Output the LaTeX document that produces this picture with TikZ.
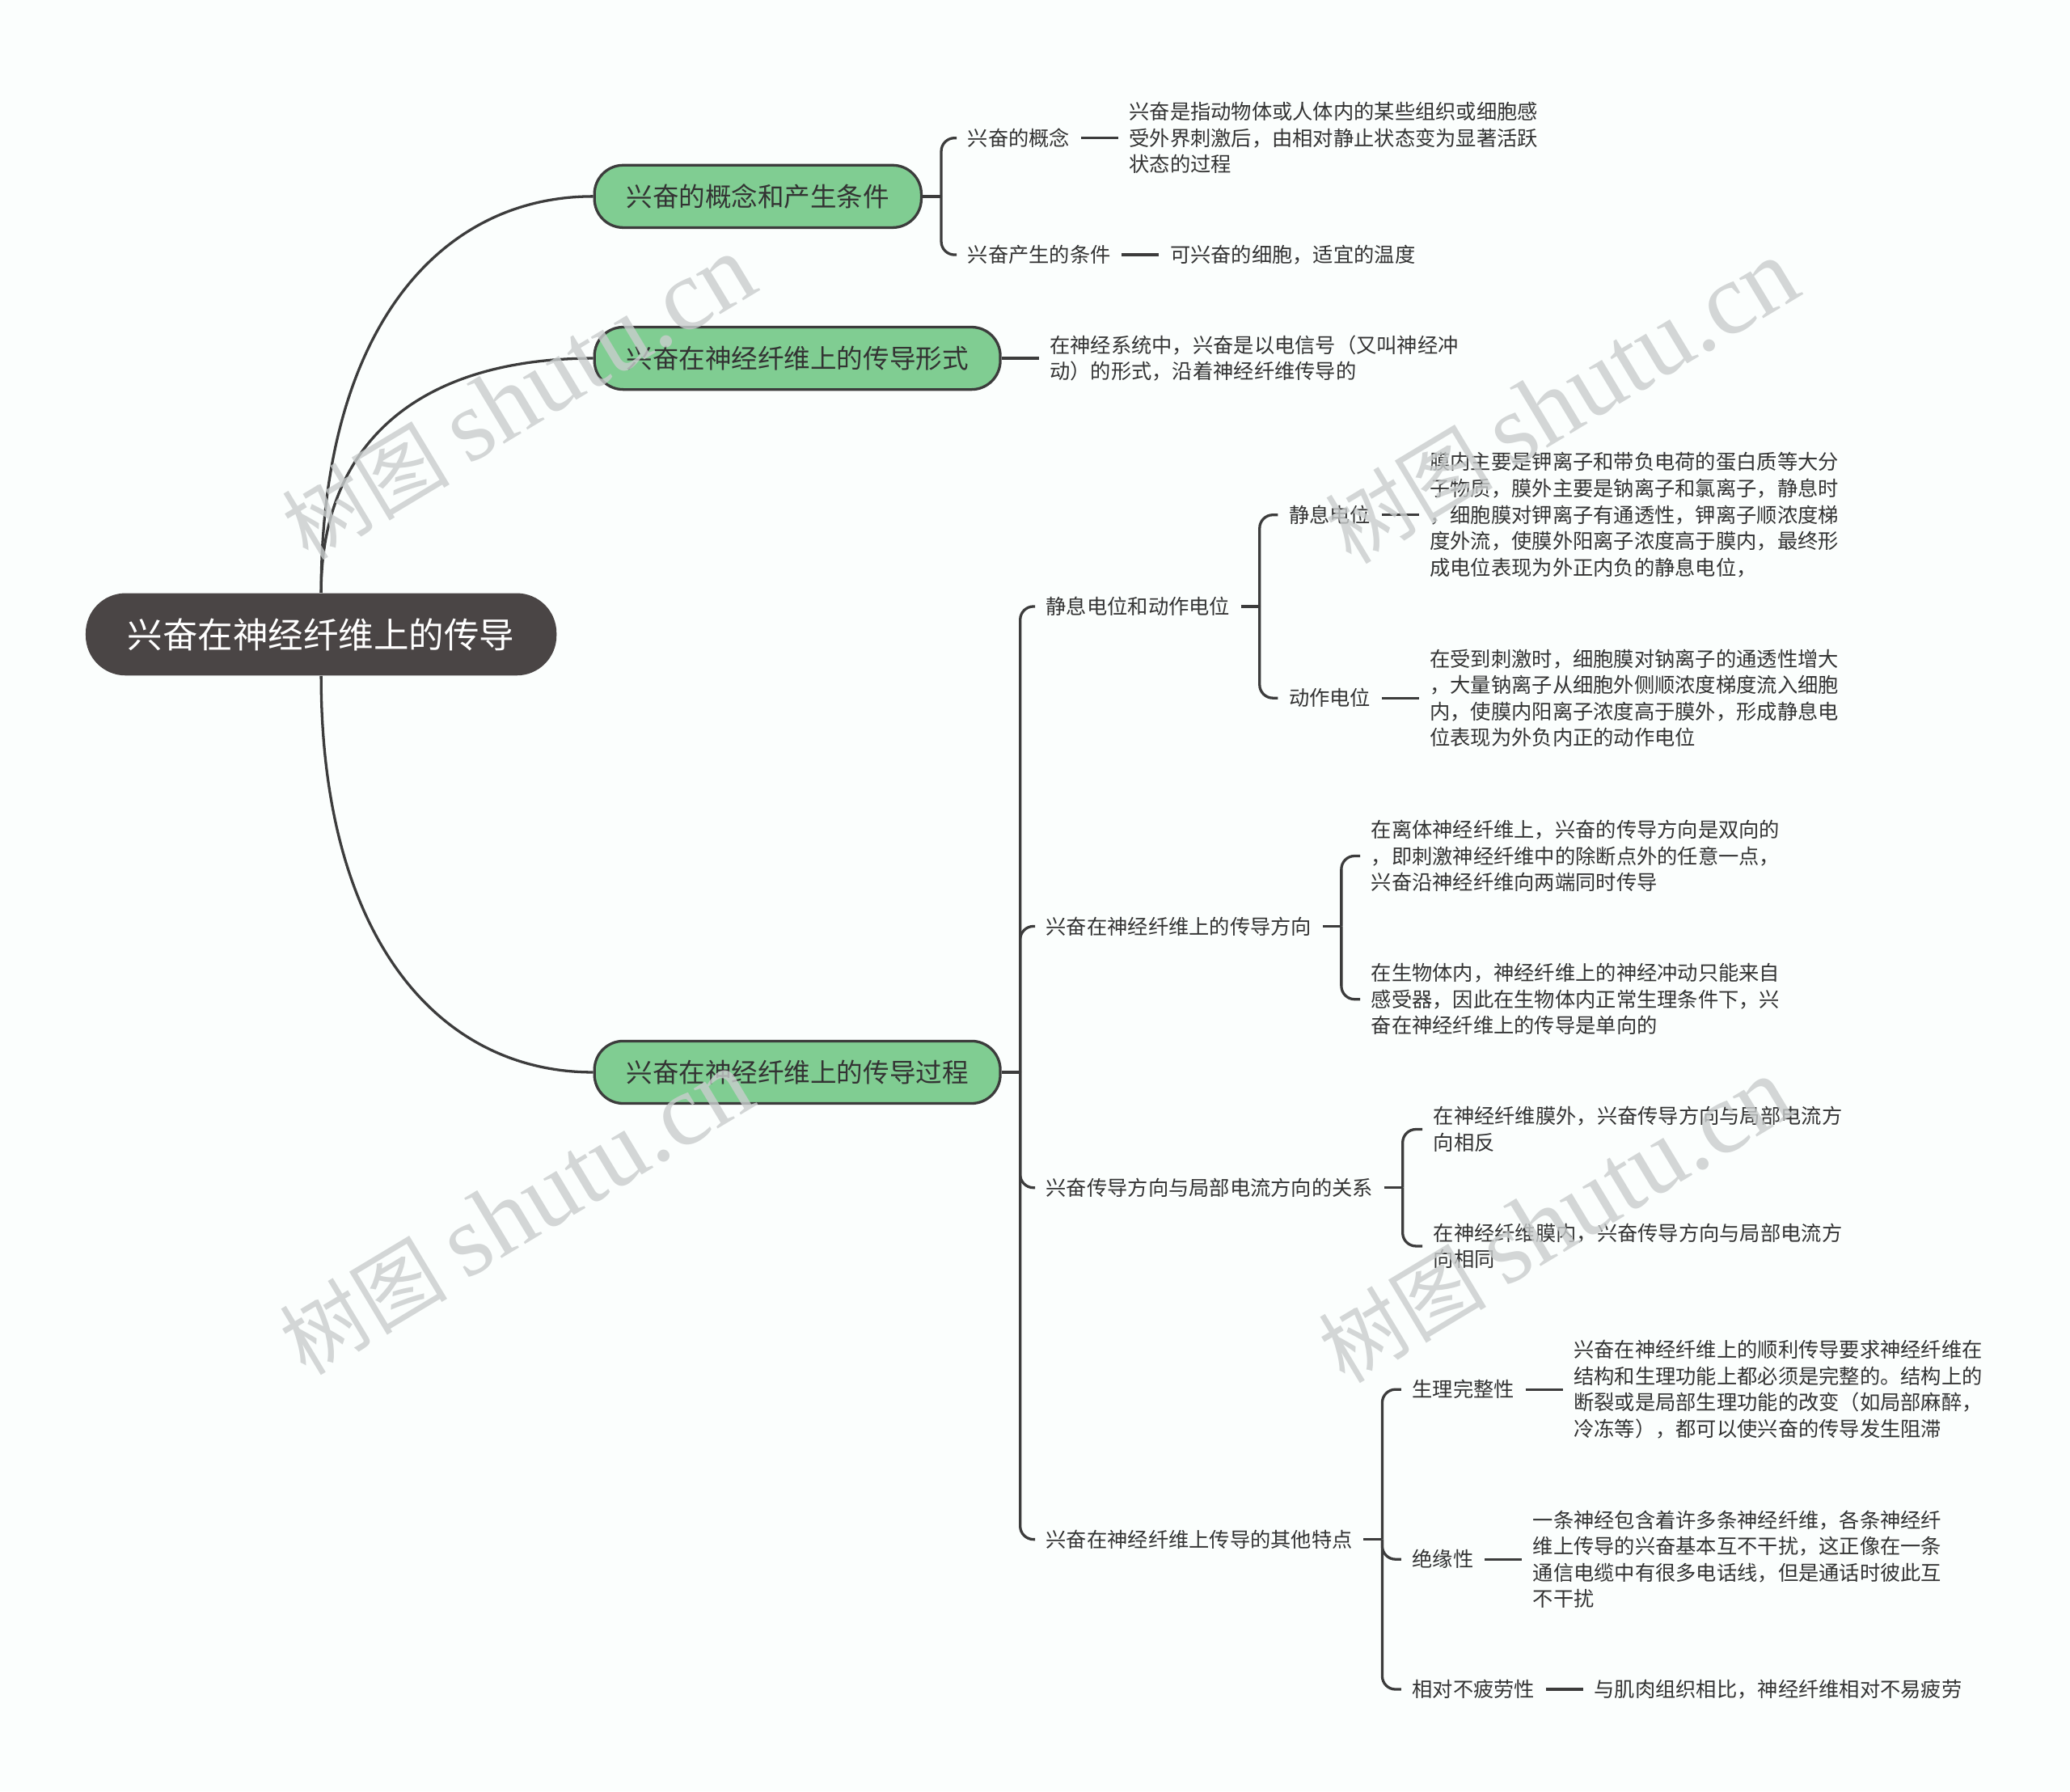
\documentclass[tikz,border=0pt]{standalone}
\usepackage{fontspec}
\setmainfont{Noto Sans CJK SC}
\newfontfamily\wmlatin{Liberation Serif}
\usetikzlibrary{positioning}

\definecolor{rootgray}{HTML}{4A4545}
\definecolor{topicgreen}{HTML}{80CD92}
\definecolor{linegray}{HTML}{3C3C3C}
\definecolor{textgray}{HTML}{333333}
\definecolor{paper}{HTML}{FBFEFD}
\definecolor{wmgray}{HTML}{C9CDCD}

\begin{document}
\begin{tikzpicture}[
        x=0.6pt, y=-0.6pt,
        root/.style={fill=rootgray, text=white, rounded corners=18pt, minimum height=37.2pt, inner xsep=19pt, font=\fontsize{15.9}{19}\selectfont},
        topic/.style={fill=topicgreen, draw=linegray, line width=1.2pt, rounded corners=13pt, minimum height=28.2pt, inner xsep=14.4pt, text=textgray, font=\fontsize{11.9}{14}\selectfont},
        leaf/.style={inner xsep=4.8pt, inner ysep=1pt, text=textgray, align=left, font=\fontsize{9.24}{11.9}\selectfont},
        edge/.style={draw=linegray, line width=1.2pt},
        brace/.style={edge, rounded corners=6pt},
        watermark/.style={rotate=31, text=wmgray, opacity=0.8, font=\fontsize{38}{40}\selectfont}
    ]
        \useasboundingbox[fill=paper] (0,0) rectangle (1560,1350);

        % Root and main topics
        \node[root] (root) at (242,478) {兴奋在神经纤维上的传导};
        \node[topic, anchor=west] (g1) at (447,148) {兴奋的概念和产生条件};
        \node[topic, anchor=west] (g2) at (447,270) {兴奋在神经纤维上的传导形式};
        \node[topic, anchor=west] (g3) at (447,808) {兴奋在神经纤维上的传导过程};

        \draw[edge] (root.north) .. controls (242,250) and (330,148) .. (g1.west);
        \draw[edge] (root.north) .. controls (242,330) and (320,270) .. (g2.west);
        \draw[edge] (root.south) .. controls (242,706) and (330,808) .. (g3.west);

        % Concept and conditions
        \node[leaf, anchor=west] (a1) at (721,104) {兴奋的概念};
        \node[leaf, right=16.8pt of a1] (a1t) {兴奋是指动物体或人体内的某些组织或细胞感\\受外界刺激后，由相对静止状态变为显著活跃\\状态的过程};
        \node[leaf, anchor=west] (a2) at (721,192) {兴奋产生的条件};
        \node[leaf, right=16.8pt of a2] (a2t) {可兴奋的细胞，适宜的温度};

        \coordinate (g1j) at ([xshift=8.4pt]g1.east);
        \draw[edge] (g1.east) -- (g1j);
        \foreach \c in {a1,a2}
            \draw[brace] (g1j) |- (\c.west);
        \draw[edge] (a1) -- (a1t);
        \draw[edge] (a2) -- (a2t);

        % Form
        \node[leaf, right=16.8pt of g2] (g2t) {在神经系统中，兴奋是以电信号（又叫神经冲\\动）的形式，沿着神经纤维传导的};
        \draw[edge] (g2) -- (g2t);

        % Process
        \node[leaf, anchor=west] (b1) at (780,457) {静息电位和动作电位};
        \node[leaf, anchor=west] (b2) at (780,698) {兴奋在神经纤维上的传导方向};
        \node[leaf, anchor=west] (b3) at (780,895) {兴奋传导方向与局部电流方向的关系};
        \node[leaf, anchor=west] (b4) at (780,1160) {兴奋在神经纤维上传导的其他特点};

        \coordinate (g3j) at ([xshift=8.4pt]g3.east);
        \draw[edge] (g3.east) -- (g3j);
        \foreach \c in {b1,b2,b3,b4}
            \draw[brace] (g3j) |- (\c.west);

        % Resting and action potential
        \node[leaf, anchor=west] (c1) at (963,388) {静息电位};
        \node[leaf, right=16.8pt of c1] (c1t) {膜内主要是钾离子和带负电荷的蛋白质等大分\\子物质，膜外主要是钠离子和氯离子，静息时\\，细胞膜对钾离子有通透性，钾离子顺浓度梯\\度外流，使膜外阳离子浓度高于膜内，最终形\\成电位表现为外正内负的静息电位，};
        \node[leaf, anchor=west] (c2) at (963,526) {动作电位};
        \node[leaf, right=16.8pt of c2] (c2t) {在受到刺激时，细胞膜对钠离子的通透性增大\\，大量钠离子从细胞外侧顺浓度梯度流入细胞\\内，使膜内阳离子浓度高于膜外，形成静息电\\位表现为外负内正的动作电位};

        \coordinate (b1j) at ([xshift=8.4pt]b1.east);
        \draw[edge] (b1.east) -- (b1j);
        \foreach \c in {c1,c2}
            \draw[brace] (b1j) |- (\c.west);
        \draw[edge] (c1) -- (c1t);
        \draw[edge] (c2) -- (c2t);

        % Direction
        \node[leaf, anchor=west] (d1) at (1025,645) {在离体神经纤维上，兴奋的传导方向是双向的\\，即刺激神经纤维中的除断点外的任意一点，\\兴奋沿神经纤维向两端同时传导};
        \node[leaf, anchor=west] (d2) at (1025,753) {在生物体内，神经纤维上的神经冲动只能来自\\感受器，因此在生物体内正常生理条件下，兴\\奋在神经纤维上的传导是单向的};

        \coordinate (b2j) at ([xshift=8.4pt]b2.east);
        \draw[edge] (b2.east) -- (b2j);
        \foreach \c in {d1,d2}
            \draw[brace] (b2j) |- (\c.west);

        % Local current
        \node[leaf, anchor=west] (e1) at (1072,851) {在神经纤维膜外，兴奋传导方向与局部电流方\\向相反};
        \node[leaf, anchor=west] (e2) at (1072,939) {在神经纤维膜内，兴奋传导方向与局部电流方\\向相同};

        \coordinate (b3j) at ([xshift=8.4pt]b3.east);
        \draw[edge] (b3.east) -- (b3j);
        \foreach \c in {e1,e2}
            \draw[brace] (b3j) |- (\c.west);

        % Other features
        \node[leaf, anchor=west] (f1) at (1056,1047) {生理完整性};
        \node[leaf, right=16.8pt of f1] (f1t) {兴奋在神经纤维上的顺利传导要求神经纤维在\\结构和生理功能上都必须是完整的。结构上的\\断裂或是局部生理功能的改变（如局部麻醉，\\冷冻等），都可以使兴奋的传导发生阻滞};
        \node[leaf, anchor=west] (f2) at (1056,1175) {绝缘性};
        \node[leaf, right=16.8pt of f2] (f2t) {一条神经包含着许多条神经纤维，各条神经纤\\维上传导的兴奋基本互不干扰，这正像在一条\\通信电缆中有很多电话线，但是通话时彼此互\\不干扰};
        \node[leaf, anchor=west] (f3) at (1056,1273) {相对不疲劳性};
        \node[leaf, right=16.8pt of f3] (f3t) {与肌肉组织相比，神经纤维相对不易疲劳};

        \coordinate (b4j) at ([xshift=8.4pt]b4.east);
        \draw[edge] (b4.east) -- (b4j);
        \foreach \c in {f1,f2,f3}
            \draw[brace] (b4j) |- (\c.west);
        \draw[edge] (f1) -- (f1t);
        \draw[edge] (f2) -- (f2t);
        \draw[edge] (f3) -- (f3t);

        % Watermarks
        \foreach \wx/\wy [count=\i] in {391/300, 389/914, 1177/303, 1172/920}
            \node[watermark] (wm\i) at (\wx,\wy) {树图 {\wmlatin\fontsize{46}{48}\selectfont shutu.cn}};
    \end{tikzpicture}
\end{document}
